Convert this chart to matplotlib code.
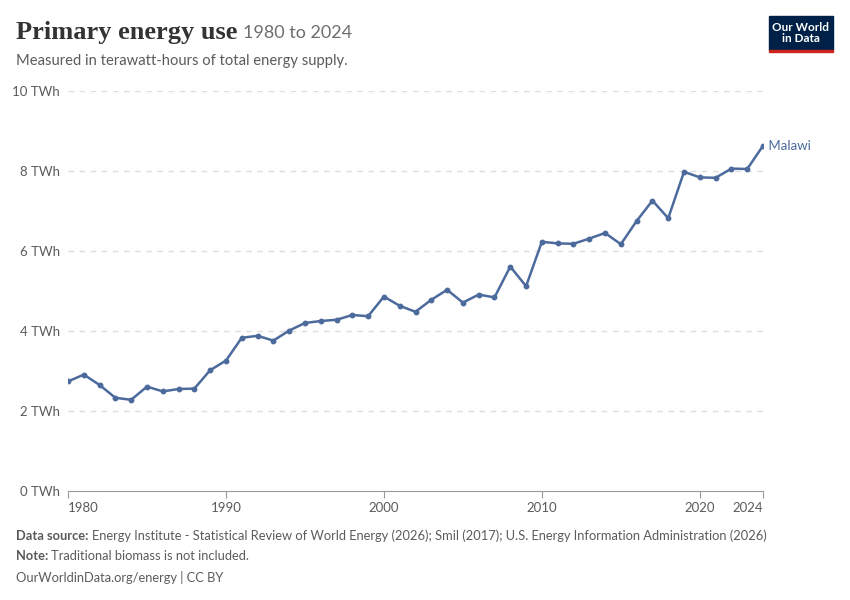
import matplotlib.pyplot as plt
from matplotlib.patches import Rectangle

# Primary energy use, Malawi (TWh)
years = list(range(1980, 2025))
energy_twh = [
    2.74, 2.91, 2.65, 2.33, 2.28, 2.61, 2.49, 2.55, 2.56, 3.02,
    3.26, 3.83, 3.88, 3.76, 4.01, 4.20, 4.25, 4.28, 4.40, 4.37,
    4.86, 4.63, 4.48, 4.78, 5.03, 4.71, 4.91, 4.84, 5.61, 5.12,
    6.23, 6.19, 6.18, 6.31, 6.45, 6.17, 6.75, 7.26, 6.82, 7.98,
    7.84, 7.83, 8.06, 8.05, 8.63,
]
country = "Malawi"
y_ticks = [0, 2, 4, 6, 8, 10]
x_ticks = [1980, 1990, 2000, 2010, 2020, 2024]

LINE = "#4c6a9c"
GREY = "#5b5b5b"
plt.rcParams["font.family"] = ["Lato", "DejaVu Sans"]

fig = plt.figure(figsize=(8.5, 6), dpi=100)
ax = fig.add_axes([68 / 850, 1 - 491 / 600, 695 / 850, 400 / 600])
renderer = fig.canvas.get_renderer()


def text_after(prev, gap_px, s, **kw):
    # put a text right after the previous one, in figure pixels
    bb = prev.get_window_extent(renderer)
    x0 = (bb.x1 + gap_px) / fig.bbox.width
    y0 = prev.get_position()[1]
    return fig.text(x0, y0, s, va=prev.get_va(), ha="left", **kw)


ax.plot(years, energy_twh, color=LINE, lw=1.8, marker="o", ms=3.2, zorder=3)
ax.text(years[-1] + 0.1, energy_twh[-1], " " + country, color=LINE,
        fontsize=9.5, va="center", ha="left")

ax.set_xlim(1980, 2024)
ax.set_ylim(0, 10)
ax.set_yticks(y_ticks)
ax.set_yticklabels([f"{t} TWh" for t in y_ticks])
ax.set_xticks(x_ticks)
ax.set_xticklabels([str(t) for t in x_ticks])
xlabs = ax.get_xticklabels()
xlabs[0].set_horizontalalignment("left")
xlabs[-1].set_horizontalalignment("right")

for t in y_ticks[1:]:
    ax.axhline(t, color="#dddddd", lw=1, ls=(0, (4, 4)), zorder=1)

for s in ["top", "right", "left"]:
    ax.spines[s].set_visible(False)
ax.spines["bottom"].set_color("#999999")
ax.tick_params(axis="y", length=0, labelsize=9.5, labelcolor=GREY, pad=6)
ax.tick_params(axis="x", length=5, color="#999999", labelsize=9.5,
               labelcolor=GREY, pad=3)

# header
title = fig.text(16 / 850, 1 - 33 / 600, "Primary energy use", fontsize=19,
                 family=["Liberation Serif", "DejaVu Serif"], weight="bold",
                 color="#333333", va="center", ha="left")
text_after(title, 6, "1980 to 2024", fontsize=13, color="#6e6e6e")
fig.text(16 / 850, 1 - 61 / 600, "Measured in terawatt-hours of total energy supply.",
         fontsize=10.6, color=GREY, va="center", ha="left")

# logo
fig.patches.append(Rectangle((769 / 850, 1 - 50 / 600), 64 / 850, 34 / 600,
                             transform=fig.transFigure, color="#002147"))
fig.patches.append(Rectangle((769 / 850, 1 - 52 / 600), 64 / 850, 2.5 / 600,
                             transform=fig.transFigure, color="#ce261e"))
fig.text(801 / 850, 1 - 33 / 600, "Our World\nin Data", color="white",
         fontsize=8.5, ha="center", va="center", weight="bold", linespacing=1.0)

# footer
FS = 9.3
src = fig.text(16 / 850, 1 - 536 / 600, "Data source:", fontsize=FS, weight="bold",
               color=GREY, va="center", ha="left")
text_after(src, 3,
           "Energy Institute - Statistical Review of World Energy (2026); Smil (2017); "
           "U.S. Energy Information Administration (2026)",
           fontsize=FS, color=GREY)
note = fig.text(16 / 850, 1 - 556 / 600, "Note:", fontsize=FS, weight="bold",
                color=GREY, va="center", ha="left")
text_after(note, 3, "Traditional biomass is not included.", fontsize=FS, color=GREY)
fig.text(16 / 850, 1 - 577 / 600, "OurWorldinData.org/energy | CC BY",
         fontsize=FS, color=GREY, va="center", ha="left")

fig.savefig("out.png", dpi=100)
